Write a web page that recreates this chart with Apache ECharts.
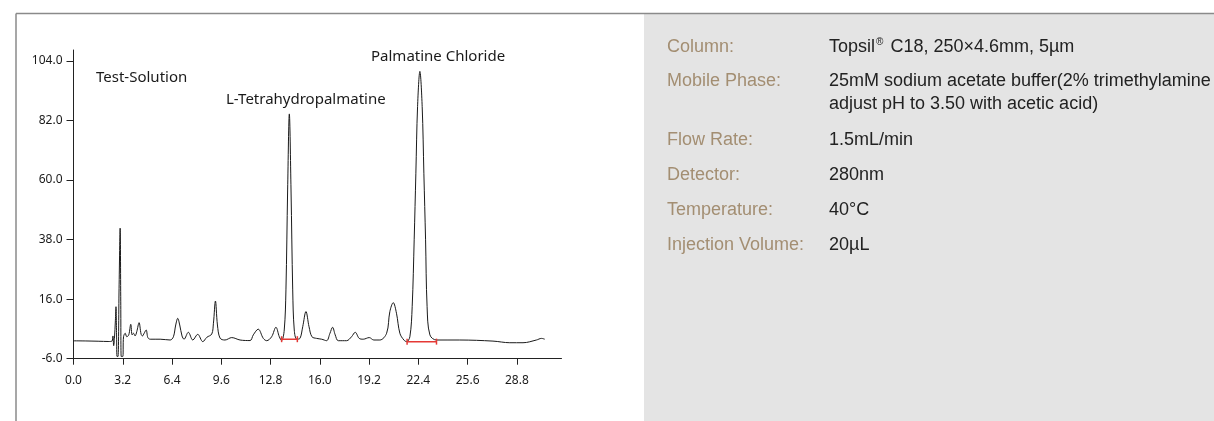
<!DOCTYPE html>
<html>
<head>
<meta charset="utf-8">
<script src="https://cdn.jsdelivr.net/npm/echarts@6/dist/echarts.min.js"></script>
<style>
html,body{margin:0;padding:0;background:#ffffff;}
#chart{width:1214px;height:421px;}
</style>
</head>
<body>
<div id="chart"></div>
<script>
// ---- data ----
const xTicks = [0, 3.2, 6.4, 9.6, 12.8, 16.0, 19.2, 22.4, 25.6, 28.8];
const yTicks = [-6, 16, 38, 60, 82, 104];

const signalTime = [
  0.00, 0.80, 1.60, 2.30, 2.50, 2.56, 2.61, 2.66, 2.72, 2.76, 2.80, 2.83, 2.89, 2.96, 3.03, 3.07, 3.10, 3.20,
  3.25, 3.36, 3.46, 3.59, 3.72, 3.81, 3.90, 4.00, 4.11, 4.26, 4.39, 4.48, 4.59, 4.72, 4.83, 4.98,
  5.63, 6.28, 6.49, 6.64, 6.77, 6.90, 7.05, 7.18, 7.46, 7.75, 8.07, 8.40, 8.66, 8.98, 9.09, 9.22,
  9.35, 9.52, 9.84, 10.28, 10.82, 11.47, 11.68, 12.00, 12.33, 12.55, 12.87, 13.15, 13.37, 13.52,
  13.69, 13.80, 13.91, 14.02, 14.13, 14.24, 14.34, 14.50, 14.71, 14.89, 15.10, 15.30, 15.49, 15.79,
  16.12, 16.44, 16.66, 16.83, 17.00, 17.20, 17.74, 18.06, 18.30, 18.56, 18.82, 19.21, 19.51, 19.90,
  20.34, 20.55, 20.77, 20.98, 21.20, 21.46, 21.64, 21.85, 22.00, 22.13, 22.24, 22.35, 22.50, 22.65,
  22.76, 22.87, 22.97, 23.15, 23.58, 25.09, 27.25, 28.34, 29.20, 30.07, 30.40, 30.61
];
const signalValue = [
  0.6, 0.55, 0.45, 0.35, 0.5, 2.4, -1.2, 1.5, 8, 13.2, 2, -5.2, -5.2, 20, 42.2, 15, -5.2, -5.2,
  2.1, 3.4, 2.1, 2.8, 6.7, 2.8, 3.4, 2.4, 4.0, 7.3, 3.1, 2.4, 3.4, 4.6, 1.8, 1.2,
  1.2, 0.9, 2.1, 6.45, 8.9, 6.45, 2.4, 1.2, 3.75, 0.9, 3.0, 0.3, 1.9, 3.1, 7.1, 15.3,
  6.45, 1.6, 0.9, 1.8, 0.9, 0.7, 2.8, 4.9, 1.5, 0.65, 2.1, 5.6, 2.1, 0.65,
  4.6, 19.4, 56.3, 84.4, 56.3, 19.4, 4.6, 1.2, 1.5, 5.8, 11.4, 5.8, 2.1, 1.5,
  1.2, 0.65, 3.4, 5.6, 2.8, 0.65, 0.65, 2.1, 3.75, 1.5, 1.2, 1.8, 0.9, 0.9,
  3.4, 11.4, 14.7, 10.8, 3.4, 0.9, 0.3, 2.1, 13.2, 37.9, 62.5, 87.1, 100.1, 87.1,
  62.5, 37.9, 13.2, 2.8, 0.9, 0.9, 0.5, -0.1, -0.1, 0.9, 1.5, 1.2
];

const thpBaselineTime = [13.52, 14.54];
const thpBaselineValue = [1.2, 1.2];
const pcBaselineTime = [21.67, 23.58];
const pcBaselineValue = [0.3, 0.3];

const peakLabels = ['Test-Solution', 'L-Tetrahydropalmatine', 'Palmatine Chloride'];

const conditionNames = ['Column:', 'Mobile Phase:', 'Flow Rate:', 'Detector:', 'Temperature:', 'Injection Volume:'];
const conditionValues = [
  'Topsil® C18, 250×4.6mm, 5µm',
  '25mM sodium acetate buffer(2% trimethylamine\nadjust pH to 3.50 with acetic acid)',
  '1.5mL/min',
  '280nm',
  '40°C',
  '20µL'
];

// ---- build ----
const zip = (xs, ys) => xs.map((x, i) => [x, ys[i]]);
const chart = echarts.init(document.getElementById('chart'), null, {renderer: 'canvas'});

const chartFont = 'Noto Sans';
const panelFont = 'Liberation Sans';
const labelPos = [[96, 78], [226, 100], [371, 57]];
const rowY = [46.7, 80.8, 140, 175, 210, 245];
const lineGap = 23.5;

const graphics = [
  {type: 'rect', z: -10, shape: {x: 644, y: 14, width: 570, height: 407}, style: {fill: '#e4e4e4'}},
  {type: 'line', shape: {x1: 16, y1: 13.5, x2: 1214, y2: 13.5}, style: {stroke: '#8a8a8a', lineWidth: 1.5}},
  {type: 'line', shape: {x1: 16, y1: 13.5, x2: 16, y2: 421}, style: {stroke: '#8a8a8a', lineWidth: 1.5}}
];
peakLabels.forEach((t, i) => {
  graphics.push({type: 'text', x: labelPos[i][0], y: labelPos[i][1],
    style: {text: t, font: '15px "' + chartFont + '"', fill: '#1a1a1a', textAlign: 'left', textVerticalAlign: 'middle'}});
});
conditionNames.forEach((t, i) => {
  graphics.push({type: 'text', x: 667, y: rowY[i],
    style: {text: t, font: '18px "' + panelFont + '"', fill: '#a38e72', textAlign: 'left', textVerticalAlign: 'middle'}});
  const lines = conditionValues[i].split('\n');
  lines.forEach((ln, j) => {
    let txt = ln, rich = null;
    if (ln.indexOf('®') >= 0) {
      const parts = ln.split('®');
      txt = '{n|' + parts[0] + '}{s|®}{n|' + parts[1] + '}';
      rich = {
        n: {fontSize: 18, fontFamily: panelFont, color: '#222'},
        s: {fontSize: 10, fontFamily: panelFont, color: '#222', verticalAlign: 'top', padding: [0, 2, 0, 1]}
      };
    }
    const st = {text: txt, font: '18px "' + panelFont + '"', fill: '#222', textAlign: 'left', textVerticalAlign: 'middle'};
    if (rich) st.rich = rich;
    graphics.push({type: 'text', x: 829, y: rowY[i] + j * lineGap, style: st});
  });
});

const axisColor = '#222';
const option = {
  animation: false,
  backgroundColor: '#ffffff',
  grid: {left: 73.5, top: 50, width: 488, height: 308.7, containLabel: false},
  xAxis: {
    type: 'value', min: 0, max: 31.7,
    axisLine: {onZero: false, lineStyle: {color: axisColor, width: 1}},
    axisTick: {show: true, length: 6, customValues: xTicks, lineStyle: {color: axisColor}},
    axisLabel: {customValues: xTicks, formatter: v => Number(v).toFixed(1), margin: 16,
      fontSize: 12, fontFamily: chartFont, color: '#1a1a1a'},
    splitLine: {show: false}
  },
  yAxis: {
    type: 'value', min: -6, max: 108,
    axisLine: {show: true, onZero: false, lineStyle: {color: axisColor, width: 1}},
    axisTick: {show: true, length: 7, customValues: yTicks, lineStyle: {color: axisColor}},
    axisLabel: {customValues: yTicks, formatter: v => Number(v).toFixed(1), margin: 11,
      fontSize: 12, fontFamily: chartFont, color: '#1a1a1a'},
    splitLine: {show: false}
  },
  series: [
    {type: 'line', data: zip(signalTime, signalValue), showSymbol: false, smooth: 0.35,
      lineStyle: {color: '#1a1a1a', width: 1}, silent: true, z: 3},
    {type: 'line', data: zip(thpBaselineTime, thpBaselineValue), symbol: 'rect', symbolSize: [1.5, 6],
      showSymbol: true, itemStyle: {color: '#e53935'}, lineStyle: {color: '#e53935', width: 1.5}, silent: true, z: 4},
    {type: 'line', data: zip(pcBaselineTime, pcBaselineValue), symbol: 'rect', symbolSize: [1.5, 6],
      showSymbol: true, itemStyle: {color: '#e53935'}, lineStyle: {color: '#e53935', width: 1.5}, silent: true, z: 4}
  ],
  graphic: graphics
};
chart.setOption(option);
</script>
</body>
</html>
